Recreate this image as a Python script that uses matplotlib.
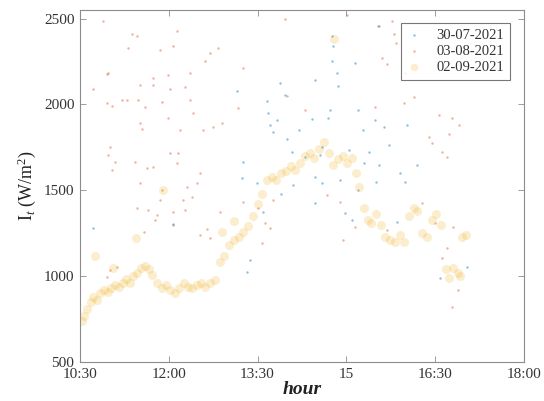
import numpy as np
import matplotlib
matplotlib.use("Agg")
import matplotlib.pyplot as plt

plt.rcParams['font.family'] = ['Liberation Serif', 'DejaVu Serif']
plt.rcParams['mathtext.fontset'] = 'custom'
plt.rcParams['mathtext.rm'] = 'Liberation Serif'
plt.rcParams['mathtext.it'] = 'Liberation Serif:italic'

# -------------------
# data (hour as decimal, irradiance in W/m2)
# -------------------
labels = ['30-07-2021', '03-08-2021', '02-09-2021']

blue_h = [14.77, 14.76, 15.15, 14.84, 14.86, 14.47, 13.88, 13.96, 13.15, 13.66, 13.68, 14.69, 15.20, 13.83,
          13.71, 14.42, 15.48, 13.76, 15.28, 15.53, 14.76, 14.72, 15.64, 16.02, 15.72, 15.38, 15.04, 15.30,
          15.55, 14.59, 14.30, 13.25, 13.24, 13.49, 14.08, 14.55, 14.47, 14.59, 14.47, 14.98, 15.09, 13.59,
          13.37, 13.32, 10.72, 12.07, 15.86, 16.58, 17.04, 14.00, 14.20, 14.90, 15.20, 15.90, 16.20, 16.00,
          15.50, 14.10, 13.90]
blue_v = [2343, 2256, 2244, 2181, 2110, 2140, 2128, 2058, 2081, 2023, 1948, 1924, 1965, 1907,
          1878, 1918, 1907, 1837, 1849, 2459, 2401, 1965, 1866, 1878, 1762, 1721, 1733, 1657,
          1645, 1750, 1692, 1663, 1570, 1541, 1721, 1703, 1576, 1541, 1424, 1366, 1326, 1372,
          1093, 1023, 1279, 1302, 1314, 988, 1052, 1800, 1850, 1560, 1500, 1600, 1650, 1550,
          1550, 1530, 1480]

red_h = [10.89, 11.38, 11.46, 12.14, 11.31, 11.85, 12.07, 12.83, 12.70, 12.61, 10.97, 11.73, 11.99, 12.36,
         10.72, 11.51, 11.73, 12.02, 12.27, 12.36, 10.96, 11.04, 11.21, 11.29, 11.48, 11.60, 11.89, 11.99,
         12.41, 11.51, 11.55, 12.19, 12.58, 12.75, 12.90, 10.96, 11.01, 10.97, 11.09, 11.04, 11.43, 11.63,
         11.73, 12.02, 12.16, 12.14, 11.89, 12.31, 12.53, 11.51, 12.39, 11.85, 12.24, 11.65, 11.46, 11.80,
         12.07, 12.27, 11.77, 12.65, 12.53, 12.70, 12.86, 12.07, 11.01, 11.13, 10.96, 12.48, 11.58,
         13.25, 13.96, 15.01, 15.55, 15.77, 15.80, 15.84, 15.60, 15.69, 15.99, 13.17, 13.99, 14.30, 15.48,
         15.97, 16.14, 16.56, 16.78, 16.90, 16.40, 16.73, 16.45, 16.61, 16.70, 13.76, 13.63, 13.71, 13.57,
         14.94, 15.15, 16.28, 16.50, 16.80, 16.70, 16.61, 16.89, 16.78, 15.69, 14.67, 14.89, 13.51, 13.25]
red_v = [2488, 2413, 2401, 2430, 2326, 2320, 2343, 2331, 2297, 2256, 2181, 2157, 2169, 2181,
         2088, 2116, 2116, 2093, 2099, 2029, 2006, 1994, 2029, 2029, 2029, 1983, 2012, 1924,
         1948, 1890, 1860, 1849, 1849, 1866, 1890, 2175, 1750, 1703, 1663, 1616, 1663, 1628,
         1634, 1715, 1715, 1657, 1500, 1517, 1599, 1541, 1459, 1442, 1442, 1384, 1395, 1355,
         1372, 1384, 1326, 1273, 1238, 1221, 1372, 1297, 1035, 1052, 994, 1541, 1260,
         2210, 2500, 2520, 2459, 2488, 2413, 2360, 2273, 2238, 2186, 1977, 2052, 1965, 1983,
         2006, 2041, 1936, 1924, 1878, 1808, 1831, 1773, 1721, 1692, 1442, 1308, 1279, 1192,
         1209, 1285, 1424, 1308, 1285, 1163, 1105, 919, 820, 1267, 1471, 1430, 1395, 1430]

yel_h = [10.53, 10.57, 10.62, 10.68, 10.72, 10.78, 10.84, 10.90, 10.97, 11.03, 11.10, 11.16, 11.22, 11.28,
         11.34, 11.40, 11.46, 11.53, 11.60, 11.66, 11.72, 11.80, 11.88, 11.95, 12.02, 12.10, 12.18, 12.25,
         12.32, 12.40, 12.48, 12.55, 12.62, 12.70, 12.78, 12.86, 12.94, 13.02, 13.10, 13.18, 13.26, 13.34,
         13.42, 13.50, 13.58, 13.66, 13.74, 13.82, 13.90, 13.98, 14.06, 14.14, 14.22, 14.30, 14.38, 14.46,
         14.54, 14.62, 14.70, 14.78, 14.86, 14.94, 15.02, 15.10, 15.16, 15.22, 15.30, 15.36, 15.42, 15.50,
         15.58, 15.66, 15.74, 15.82, 15.90, 15.98, 16.06, 16.14, 16.20, 16.28, 16.36, 16.44, 16.52, 16.60,
         16.68, 16.74, 16.80, 16.88, 16.92, 16.96, 17.02,
         10.75, 11.05, 11.45, 14.80, 12.90, 13.10, 11.90]
yel_v = [740, 770, 810, 850, 880, 860, 900, 920, 910, 930, 950, 940, 960, 985,
         960, 1000, 1020, 1050, 1060, 1040, 1010, 960, 930, 950, 920, 900, 930, 960,
         940, 930, 950, 960, 940, 960, 980, 1080, 1120, 1180, 1210, 1230, 1260, 1290,
         1350, 1420, 1480, 1560, 1580, 1560, 1600, 1610, 1640, 1620, 1660, 1700, 1720, 1690,
         1740, 1780, 1720, 1650, 1680, 1700, 1660, 1690, 1600, 1520, 1400, 1330, 1310, 1360,
         1300, 1230, 1210, 1200, 1240, 1200, 1350, 1400, 1380, 1250, 1230, 1330, 1360, 1300,
         1040, 990, 1050, 1020, 1000, 1230, 1240,
         1120, 1050, 1220, 2380, 1260, 1320, 1500]

xticks = [10.5, 12, 13.5, 15, 16.5, 18]
xticklabels = ['10:30', '12:00', '13:30', '15', '16:30', '18:00']
yticks = [500, 1000, 1500, 2000, 2500]

fig = plt.figure(figsize=(5.44, 4.01), dpi=100)
ax = fig.add_axes([0.147, 0.097, 0.816, 0.878])

ax.scatter(blue_h, blue_v, s=3, color='#0072BD', alpha=0.45, linewidths=0, label=labels[0])
ax.scatter(red_h, red_v, s=3, color='#D95319', alpha=0.45, linewidths=0, label=labels[1])
ax.scatter(yel_h, yel_v, s=42, color='#EDB120', alpha=0.22, linewidths=0, label=labels[2])

ax.set_xlim(10.5, 18)
ax.set_ylim(500, 2550)
ax.set_xticks(xticks)
ax.set_xticklabels(xticklabels)
ax.set_yticks(yticks)

for s in ax.spines.values():                                   # grey MATLAB-like box
    s.set_color('#8c8c8c')
    s.set_linewidth(0.8)
ax.tick_params(direction='in', top=True, right=True, length=4, width=0.6, color='#8c8c8c',
               labelsize=11, labelcolor='#333333', pad=4)

ax.set_xlabel('hour', fontsize=14, fontweight='bold', style='italic', color='#222222', labelpad=0)
ax.set_ylabel('I$_t$ (W/m$^2$)', fontsize=13, color='#222222', labelpad=4)

leg = ax.legend(loc='upper right', fontsize=10.5, frameon=True, fancybox=False, edgecolor='#555555',
                borderpad=0.4, handlelength=1.0, handletextpad=1.0, labelspacing=0.2,
                bbox_to_anchor=(0.985, 0.985))
leg.get_frame().set_linewidth(0.8)
leg.legend_handles[2].set_sizes([30])
for t in leg.get_texts():
    t.set_color('#333333')

fig.savefig('out.png', dpi=100)
